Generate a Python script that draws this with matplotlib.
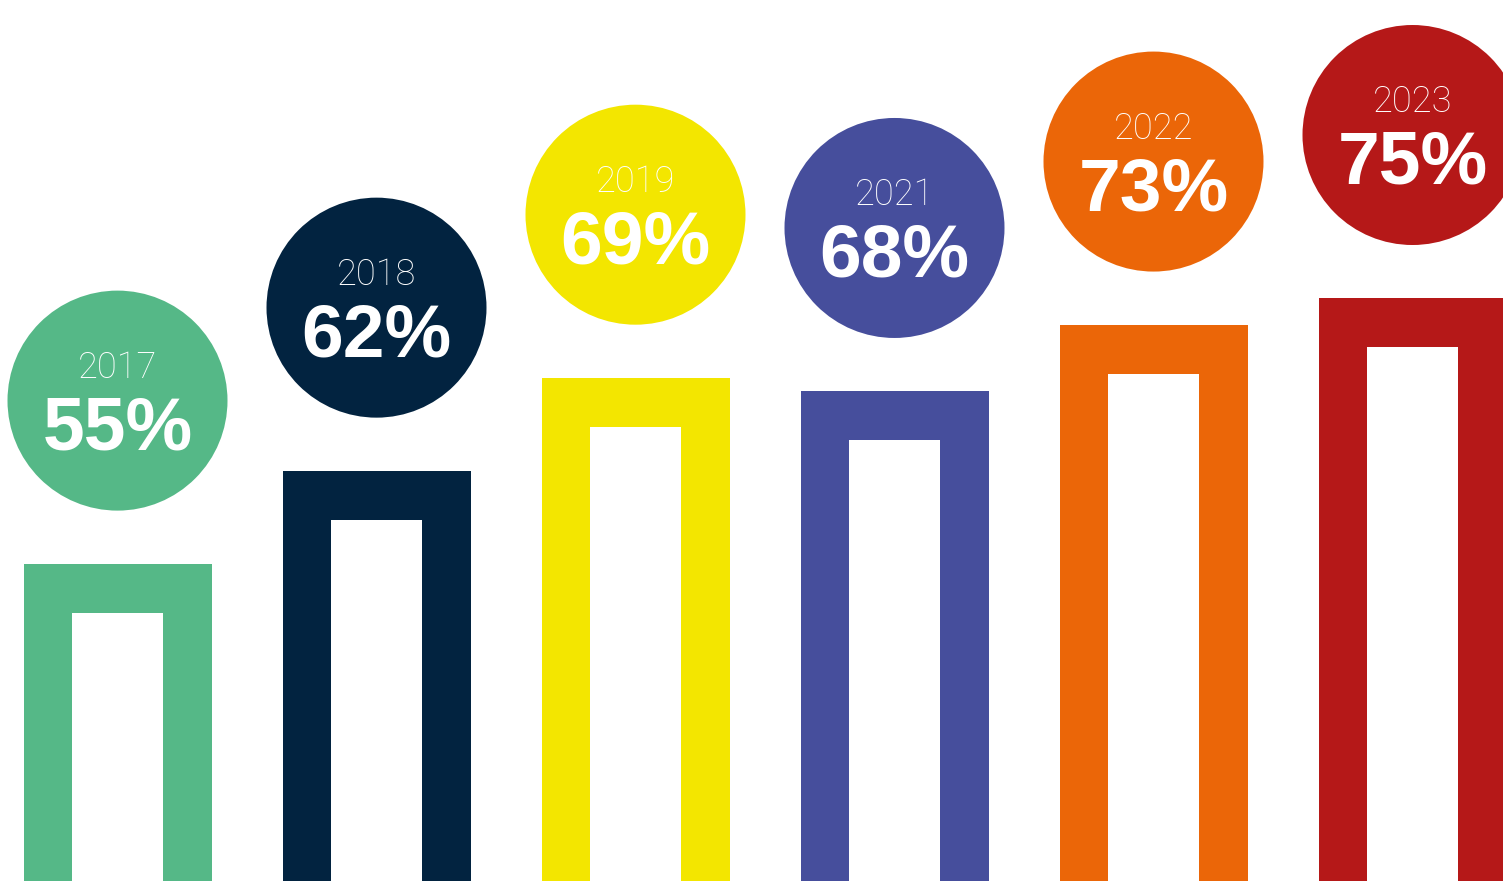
import numpy as np
import matplotlib
matplotlib.use("Agg")
import matplotlib.pyplot as plt
from matplotlib.patches import Ellipse

years = ["2017", "2018", "2019", "2021", "2022", "2023"]
values = [55, 62, 69, 68, 73, 75]
colors = ["#55b887", "#022340", "#f3e600", "#464e9c", "#eb6608", "#b51818"]

W, H = 1503, 881
fig = plt.figure(figsize=(W / 100, H / 100), dpi=100)
ax = fig.add_axes([0, 0, 1, 1])

# pixel scales: 259 px per bar slot, ~13.3 px per percentage point
px_x = 259.0
px_y = 13.28
y0 = 31.1
x_left = -117.5 / px_x
ax.set_xlim(x_left, x_left + W / px_x)
ax.set_ylim(y0, y0 + H / px_y)
ax.axis("off")

x = np.arange(len(values))
stroke = 49 / px_y
outer_w = 188 / px_x
inner_w = 91 / px_x

ax.bar(x, values, width=outer_w, color=colors, zorder=1)
ax.bar(x, np.array(values) - stroke, width=inner_w, color="white", zorder=2)

r = 110
for i, (yr, v, c) in enumerate(zip(years, values, colors)):
    cy = v + (53 + r) / px_y
    ax.add_patch(Ellipse((i, cy), 2 * r / px_x, 2 * r / px_y, color=c, zorder=3, lw=0))
    ax.text(i, cy + 33 / px_y, yr, ha="center", va="center", color="white",
            fontsize=26, family="Roboto", weight="light", zorder=4)
    ax.text(i, cy - 29 / px_y, f"{v}%", ha="center", va="center", color="white",
            fontsize=54, family="Liberation Sans", weight="bold", zorder=4)

fig.savefig("out.png", dpi=100)
